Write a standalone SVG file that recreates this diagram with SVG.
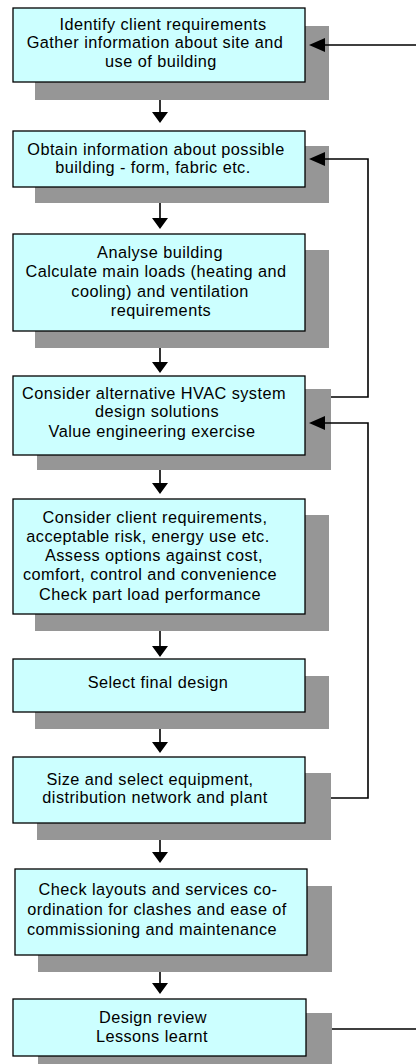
<svg xmlns="http://www.w3.org/2000/svg" width="416" height="1064" viewBox="0 0 416 1064">
<style>
.sh{fill:#969696}
.bx{fill:#CCFFFF;stroke:#000;stroke-width:1.3}
.t{font-family:"Liberation Sans",Arial,sans-serif;font-size:16.3px;letter-spacing:0.45px;fill:#000;text-anchor:middle}
.ln{fill:none;stroke:#000;stroke-width:1.6}
.ah{fill:#000}
</style>
<rect width="416" height="1064" fill="#fff"/>
<g id="n1"><rect class="sh" x="35" y="26" width="294" height="74"/><rect class="bx" x="13" y="8" width="292" height="74"/>
<text class="t"><tspan x="163" y="30">Identify client requirements</tspan><tspan x="155" y="48">Gather information about site and</tspan><tspan x="161" y="67">use of building</tspan></text></g>
<g id="n2"><rect class="sh" x="35" y="146" width="294" height="57"/><rect class="bx" x="13" y="131" width="292" height="56"/>
<text class="t"><tspan x="156" y="155">Obtain information about possible</tspan><tspan x="153" y="173">building - form, fabric etc.</tspan></text></g>
<g id="n3"><rect class="sh" x="35" y="250" width="294" height="98"/><rect class="bx" x="13" y="234" width="292" height="97"/>
<text class="t"><tspan x="160" y="258">Analyse building</tspan><tspan x="156" y="277">Calculate main loads (heating and</tspan><tspan x="160" y="297">cooling) and ventilation</tspan><tspan x="161" y="316">requirements</tspan></text></g>
<g id="n4"><rect class="sh" x="37" y="389" width="294" height="81"/><rect class="bx" x="13" y="376" width="292" height="79"/>
<text class="t"><tspan x="154" y="399">Consider alternative HVAC system</tspan><tspan x="157" y="417">design solutions</tspan><tspan x="152" y="437">Value engineering exercise</tspan></text></g>
<g id="n5"><rect class="sh" x="35" y="515" width="294" height="116"/><rect class="bx" x="13" y="499" width="292" height="115"/>
<text class="t"><tspan x="155" y="523">Consider client requirements,</tspan><tspan x="148" y="542">acceptable risk, energy use etc.</tspan><tspan x="154" y="561">Assess options against cost,</tspan><tspan x="150" y="580">comfort, control and convenience</tspan><tspan x="150" y="600">Check part load performance</tspan></text></g>
<g id="n6"><rect class="sh" x="35" y="676" width="294" height="53"/><rect class="bx" x="13" y="659" width="292" height="53"/>
<text class="t"><tspan x="158" y="688">Select final design</tspan></text></g>
<g id="n7"><rect class="sh" x="37" y="773" width="294" height="67"/><rect class="bx" x="13" y="757" width="292" height="66"/>
<text class="t"><tspan x="150" y="785">Size and select equipment,</tspan><tspan x="155" y="803">distribution network and plant</tspan></text></g>
<g id="n8"><rect class="sh" x="38" y="886" width="294" height="86"/><rect class="bx" x="15" y="869" width="292" height="86"/>
<text class="t"><tspan x="158" y="895">Check layouts and services co-</tspan><tspan x="157" y="915">ordination for clashes and ease of</tspan><tspan x="152" y="935">commissioning and maintenance</tspan></text></g>
<g id="n9"><rect class="sh" x="38" y="1013" width="294" height="51"/><rect class="bx" x="13" y="999" width="293" height="57"/>
<text class="t"><tspan x="153" y="1023">Design review</tspan><tspan x="152" y="1042">Lessons learnt</tspan></text></g>
<g id="connectors">
<path class="ln" d="M160 100V113M160 203V219M160 348V363M160 470V484M160 631V647M160 729V743M160 840V853M160 972V984"/>
<path class="ah" d="M160 123L152 112H168ZM160 229L152 218H168ZM160 373L152 362H168ZM160 494L152 483H168ZM160 657L152 646H168ZM160 753L152 742H168ZM160 863L152 852H168ZM160 994L152 983H168Z"/>
<path class="ln" d="M416 45H322M331 397H368V159H322M331 798H368V423H322M332 1029H416"/>
<path class="ah" d="M309 45L325 38V52ZM309 159L325 152V166ZM309 423L325 416V430Z"/>
</g>
</svg>
